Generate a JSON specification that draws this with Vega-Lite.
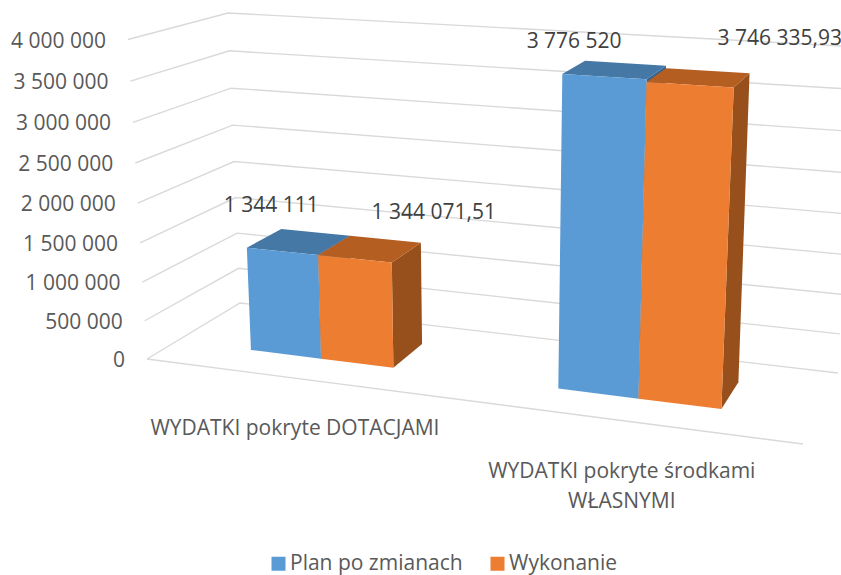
{
"$schema":"https://vega.github.io/schema/vega-lite/v6.json",
"width":841,"height":575,"padding":0,"autosize":{"type":"none"},
"background":"white",
"view":{"stroke":null},
"config":{"font":"Open Sans"},
"encoding":{
 "x":{"field":"px","type":"quantitative","scale":{"domain":[0,841],"nice":false,"zero":false},"axis":null},
 "y":{"field":"py","type":"quantitative","scale":{"domain":[575,0],"nice":false,"zero":false},"axis":null}},
"datasets":{
"ticks":[
{"tick":0,"label":"0"},{"tick":500000,"label":"500 000"},{"tick":1000000,"label":"1 000 000"},{"tick":1500000,"label":"1 500 000"},{"tick":2000000,"label":"2 000 000"},{"tick":2500000,"label":"2 500 000"},{"tick":3000000,"label":"3 000 000"},{"tick":3500000,"label":"3 500 000"},{"tick":4000000,"label":"4 000 000"}],
"bars":[
{"category":"WYDATKI pokryte DOTACJAMI","series":"Plan po zmianach","value":1344111,"label":"1 344 111"},
{"category":"WYDATKI pokryte DOTACJAMI","series":"Wykonanie","value":1344071.51,"label":"1 344 071,51"},
{"category":"WYDATKI pokryte środkami WŁASNYMI","series":"Plan po zmianach","value":3776520,"label":"3 776 520"},
{"category":"WYDATKI pokryte środkami WŁASNYMI","series":"Wykonanie","value":3746335.93,"label":"3 746 335,93"}]
},
"layer":[
{"data":{"name":"ticks"},
 "transform":[
 {"calculate":"[0,1,2]","as":"corner"},{"flatten":["corner"]},
 {"calculate":"datum.corner==2?1:0","as":"u"},{"calculate":"datum.corner>=1?1:0","as":"d"},
 {"calculate":"(datum.tick/4000000)/(1+0.05*(1-datum.tick/4000000))","as":"h"},
 {"calculate":"(1-datum.u)*(1-datum.d)*(147*(1-datum.h)+128*datum.h)+datum.u*(1-datum.d)*(803*(1-datum.h)+823*datum.h)+(1-datum.u)*datum.d*(240*(1-datum.h)+228*datum.h)+datum.u*datum.d*(838*(1-datum.h)+853*datum.h)","as":"px"},
 {"calculate":"(1-datum.u)*(1-datum.d)*(359*(1-datum.h)+39.5*datum.h)+datum.u*(1-datum.d)*(444*(1-datum.h)+82*datum.h)+(1-datum.u)*datum.d*(303*(1-datum.h)+13*datum.h)+datum.u*datum.d*(373*(1-datum.h)+46.6*datum.h)","as":"py"}],
 "layer":[
  {"mark":{"type":"line","stroke":"#d9d9d9","strokeWidth":1.4,"clip":true},
   "encoding":{"detail":{"field":"tick"},"order":{"field":"corner"}}},
  {"transform":[{"filter":"datum.corner==0"}],
   "mark":{"type":"text","align":"right","baseline":"middle","dx":-22,"dy":2,"fontSize":21,"color":"#595959"},
   "encoding":{"text":{"field":"label"}}}
 ]},
{"data":{"name":"ticks"},
 "transform":[
 {"filter":"datum.tick==0"},
 {"calculate":"[0,1]","as":"u"},{"flatten":["u"]},
 {"calculate":"147+656*datum.u","as":"px"},
 {"calculate":"359+85*datum.u","as":"py"}],
 "mark":{"type":"line","stroke":"#d9d9d9","strokeWidth":1.4,"clip":true},
 "encoding":{"order":{"field":"u"}}},
{"data":{"name":"bars"},
 "transform":[
 {"calculate":"(datum.category=='WYDATKI pokryte DOTACJAMI'?0.25:0.75)+(datum.series=='Wykonanie'?0:-0.12)","as":"w0"},
 {"calculate":"datum.w0+0.12","as":"w1"},
 {"calculate":"(datum.value/4000000)/(1+0.05*(1-datum.value/4000000))","as":"f"},
 {"calculate":"['side','top','front']","as":"face"},{"flatten":["face"]},
 {"calculate":"[0,1,2,3]","as":"corner"},{"flatten":["corner"]},
 {"calculate":"datum.face=='side'?datum.w1:((datum.corner==0||datum.corner==3)?datum.w0:datum.w1)","as":"w"},
 {"calculate":"datum.face=='front'?0.327:(datum.face=='top'?(datum.corner>=2?0.718:0.327):((datum.corner==1||datum.corner==2)?0.718:0.327))","as":"d"},
 {"calculate":"datum.face=='top'?datum.f:(datum.corner>=2?datum.f:0)","as":"h"},
 {"calculate":"datum.w/(1+0.145*(1-datum.w))","as":"u"},
 {"calculate":"(1-datum.u)*(1-datum.d)*(147*(1-datum.h)+128*datum.h)+datum.u*(1-datum.d)*(803*(1-datum.h)+823*datum.h)+(1-datum.u)*datum.d*(240*(1-datum.h)+228*datum.h)+datum.u*datum.d*(838*(1-datum.h)+853*datum.h)","as":"px"},
 {"calculate":"(1-datum.u)*(1-datum.d)*(359*(1-datum.h)+39.5*datum.h)+datum.u*(1-datum.d)*(444*(1-datum.h)+82*datum.h)+(1-datum.u)*datum.d*(303*(1-datum.h)+13*datum.h)+datum.u*datum.d*(373*(1-datum.h)+46.6*datum.h)","as":"py"},
 {"calculate":"datum.series+' '+datum.face","as":"shade"},
 {"calculate":"datum.category+' '+datum.series+' '+datum.face","as":"poly"}],
 "layer":[
  {"transform":[{"filter":"datum.face!='front'"}],
   "mark":{"type":"line","stroke":null,"strokeWidth":0},
   "encoding":{
    "detail":{"field":"poly"},"order":{"field":"corner"},
    "fill":{"field":"shade","type":"nominal","legend":null,"scale":{"domain":["Plan po zmianach top","Plan po zmianach side","Wykonanie top","Wykonanie side"],"range":["#4678a6","#2f6594","#b45e21","#97501b"]}}}},
  {"transform":[{"filter":"datum.face=='front'"}],
   "mark":{"type":"line","stroke":null,"strokeWidth":0},
   "encoding":{
    "detail":{"field":"poly"},"order":{"field":"corner"},
    "fill":{"field":"series","type":"nominal","scale":{"domain":["Plan po zmianach","Wykonanie"],"range":["#5b9bd5","#ed7d31"]},
     "legend":{"title":null,"orient":"none","legendX":268,"legendY":553,"direction":"horizontal","symbolType":"square","symbolSize":196,"symbolStrokeWidth":0,"labelFontSize":21,"labelColor":"#595959","labelFont":"Open Sans","labelLimit":300,"columnPadding":24,"labelOffset":1}}}}
 ],
 "resolve":{"scale":{"fill":"independent"}}},
{"data":{"name":"bars"},
 "transform":[
 {"calculate":"(datum.category=='WYDATKI pokryte DOTACJAMI'?0.25:0.75)+(datum.series=='Wykonanie'?0.06:-0.06)","as":"w"},
 {"calculate":"(datum.value/4000000)/(1+0.05*(1-datum.value/4000000))","as":"h"},
 {"calculate":"0.327","as":"d"},
 {"calculate":"datum.w/(1+0.145*(1-datum.w))","as":"u"},
 {"calculate":"(1-datum.u)*(1-datum.d)*(147*(1-datum.h)+128*datum.h)+datum.u*(1-datum.d)*(803*(1-datum.h)+823*datum.h)+(1-datum.u)*datum.d*(240*(1-datum.h)+228*datum.h)+datum.u*datum.d*(838*(1-datum.h)+853*datum.h)+(datum.series=='Wykonanie'?(datum.w<0.5?79:90):(datum.w<0.5?-11:-30))","as":"px"},
 {"calculate":"(1-datum.u)*(1-datum.d)*(359*(1-datum.h)+39.5*datum.h)+datum.u*(1-datum.d)*(444*(1-datum.h)+82*datum.h)+(1-datum.u)*datum.d*(303*(1-datum.h)+13*datum.h)+datum.u*datum.d*(373*(1-datum.h)+46.6*datum.h)+(datum.series=='Wykonanie'?-48:(datum.w<0.5?-47:-37))","as":"py"}],
 "mark":{"type":"text","fontSize":21,"color":"#404040","baseline":"middle","dy":2},
 "encoding":{"text":{"field":"label"}}},
{"data":{"values":[
 {"category":["WYDATKI pokryte DOTACJAMI"],"w":0.25},
 {"category":["WYDATKI pokryte środkami","WŁASNYMI"],"w":0.75}]},
 "transform":[
 {"calculate":"datum.w/(1+0.145*(1-datum.w))","as":"u"},
 {"calculate":"147+656*datum.u","as":"px"},
 {"calculate":"359+85*datum.u","as":"py"}],
 "mark":{"type":"text","fontSize":21,"color":"#595959","baseline":"top","dy":40,"lineHeight":30},
 "encoding":{"text":{"field":"category"}}}
]
}
